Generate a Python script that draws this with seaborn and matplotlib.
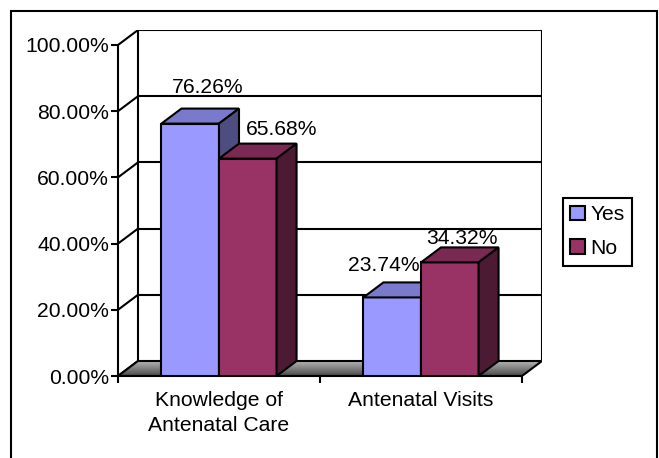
import numpy as np
import pandas as pd
import matplotlib
matplotlib.use("Agg")
import matplotlib.pyplot as plt
import seaborn as sns
from matplotlib.patches import Polygon, Rectangle, Patch
from matplotlib.colors import LinearSegmentedColormap, to_rgb
from matplotlib.ticker import FuncFormatter, FixedLocator

# ---- data ----
categories = ["Knowledge of\nAntenatal Care", "Antenatal Visits"]
responses = ["Yes", "No"]
yes_values = [76.26, 23.74]
no_values = [65.68, 34.32]
y_ticks = [0, 20, 40, 60, 80, 100]

df = pd.DataFrame({
    "category": categories * 2,
    "response": ["Yes"] * len(categories) + ["No"] * len(categories),
    "percent": yes_values + no_values,
})

palette = {"Yes": "#9999FF", "No": "#993366"}

# label offsets (pixels) from the top-front centre of each bar: (category, response)
label_offsets = {
    (0, "Yes"): (17, 31),
    (0, "No"): (34, 24),
    (1, "Yes"): (-8, 26),
    (1, "No"): (12, 18),
}

sns.set_theme(style="ticks")
plt.rcParams["font.family"] = ["Liberation Sans", "DejaVu Sans"]
plt.rcParams["text.color"] = "black"
plt.rcParams["xtick.color"] = "black"
plt.rcParams["ytick.color"] = "black"

FS = 15.2
LW = 1.5

W, H = 659, 458
fig = plt.figure(figsize=(W / 100, H / 100), dpi=100)
fig.patch.set_facecolor("white")

# front plane geometry in pixels, plus the 3-D depth offset
x_left, x_right = 118, 522
y_zero, y_full = 376, 45
depth_x, depth_y = 20, 15
px_per_cat = (x_right - x_left) / 2
px_per_pct = (y_zero - y_full) / 100
DX = depth_x / px_per_cat
DY = depth_y / px_per_pct

ax = fig.add_axes([x_left / W, (H - y_zero) / H,
                   (x_right - x_left + depth_x) / W,
                   (y_zero - y_full + depth_y) / H])
ax.set_facecolor("none")

sns.barplot(data=df, x="category", y="percent", hue="response",
            order=categories, hue_order=responses, palette=palette,
            width=0.57, gap=0, saturation=1, edgecolor="black",
            linewidth=LW, legend=False, ax=ax, zorder=3)
bars = sorted([p for p in ax.patches if isinstance(p, Rectangle)],
              key=lambda p: p.get_x())

# floor with a grey gradient
floor_pts = [(-0.5, 0), (1.5, 0), (1.5 + DX, DY), (-0.5 + DX, DY)]
floor = Polygon(floor_pts, closed=True, facecolor="none", edgecolor="black",
                lw=LW, zorder=1.5, joinstyle="miter")
ax.add_patch(floor)
floor_cmap = LinearSegmentedColormap.from_list("floor", ["#4a4a4a", "#b4b4b4"])
grad = np.linspace(0, 1, 64).reshape(-1, 1)
im = ax.imshow(grad, extent=(-0.5, 1.5 + DX, 0, DY), origin="lower",
               cmap=floor_cmap, aspect="auto", zorder=1.2,
               interpolation="bilinear")
clip_poly = Polygon(floor_pts, closed=True, transform=ax.transData)
im.set_clip_path(clip_poly)

# back wall, side wall and gridlines
for t in y_ticks[1:]:
    ax.plot([-0.5 + DX, 1.5 + DX], [t + DY, t + DY], color="black", lw=LW,
            zorder=1, solid_capstyle="projecting")
for t in y_ticks:
    ax.plot([-0.5, -0.5 + DX], [t, t + DY], color="black", lw=LW, zorder=1)
for xb in (-0.5 + DX, 1.5 + DX):
    ax.plot([xb, xb], [DY, 100 + DY], color="black", lw=LW, zorder=1,
            solid_capstyle="projecting")

# top and side faces for each bar
def shade(color, f):
    r, g, b = to_rgb(color)
    return (r * f, g * f, b * f)

for i, bar in enumerate(bars):
    x0 = bar.get_x()
    x1 = x0 + bar.get_width()
    h = bar.get_height()
    base = bar.get_facecolor()
    z = 3 + i
    bar.set_zorder(z)
    top = Polygon([(x0, h), (x1, h), (x1 + DX, h + DY), (x0 + DX, h + DY)],
                  closed=True, facecolor=shade(base, 0.8), edgecolor="black",
                  lw=LW, zorder=z + 0.1, joinstyle="miter")
    side = Polygon([(x1, 0), (x1 + DX, DY), (x1 + DX, h + DY), (x1, h)],
                   closed=True, facecolor=shade(base, 0.5), edgecolor="black",
                   lw=LW, zorder=z + 0.2, joinstyle="miter")
    ax.add_patch(top)
    ax.add_patch(side)

    cx = x0 + bar.get_width() / 2
    cat_idx = int(round(cx))
    resp = "Yes" if cx < cat_idx else "No"
    dx, dy = label_offsets[(cat_idx, resp)]
    ax.annotate(f"{h:.2f}%", xy=(cx, h),
                xytext=(dx, dy), textcoords="offset pixels",
                ha="center", va="baseline", fontsize=FS, zorder=20)

ax.set_xlim(-0.5, 1.5 + DX)
ax.set_ylim(0, 100 + DY)

# axes lines and ticks
for s in ("top", "right"):
    ax.spines[s].set_visible(False)
ax.spines["left"].set_bounds(0, 100)
ax.spines["bottom"].set_bounds(-0.5, 1.5)
for s in ("left", "bottom"):
    ax.spines[s].set_linewidth(LW)
    ax.spines[s].set_color("black")
    ax.spines[s].set_zorder(2)

ax.set_yticks(y_ticks)
ax.yaxis.set_major_formatter(FuncFormatter(lambda v, _: f"{v:.2f}%"))
ax.tick_params(axis="y", direction="out", length=5, width=LW, pad=1.5,
               labelsize=FS, left=True)
ax.set_xticks([0, 1])
ax.set_xticklabels(categories, linespacing=1.4)
ax.xaxis.set_minor_locator(FixedLocator([-0.5, 0.5, 1.5]))
ax.tick_params(axis="x", which="major", length=0, pad=11, labelsize=FS)
ax.tick_params(axis="x", which="minor", direction="out", length=5, width=LW,
               bottom=True)
ax.set_xlabel("")
ax.set_ylabel("")

# legend
handles = [Patch(facecolor=palette[r], edgecolor="black", lw=LW) for r in responses]
leg = fig.legend(handles, responses, loc="upper left",
                 bbox_to_anchor=(563 / W, 1 - 198 / H), frameon=True,
                 fancybox=False, edgecolor="black", framealpha=1,
                 borderaxespad=0, handlelength=0.7, handleheight=0.7,
                 handletextpad=0.25, labelspacing=0.7, borderpad=0.35,
                 fontsize=FS)
leg.get_frame().set_linewidth(LW)

# chart border
fig.add_artist(Rectangle((11 / W, -0.05), (657 - 11) / W, 1.05 - 11 / H,
                         transform=fig.transFigure, fill=False,
                         edgecolor="black", lw=LW))

fig.savefig("out.png", dpi=100, facecolor="white")
